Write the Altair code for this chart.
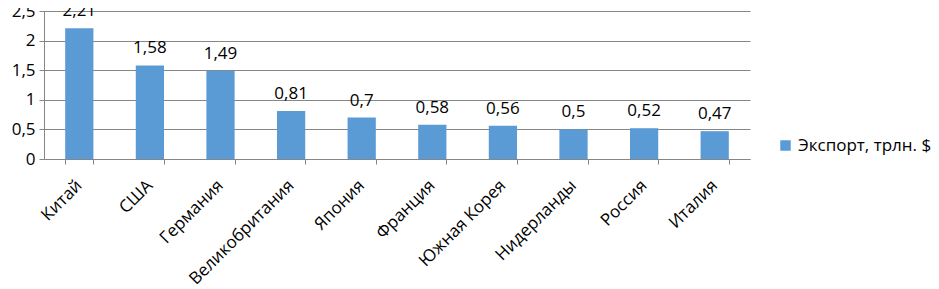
import altair as alt
import pandas as pd

countries = ["Китай", "США", "Германия", "Великобритания", "Япония",
             "Франция", "Южная Корея", "Нидерланды", "Россия", "Италия"]
values = [2.21, 1.58, 1.49, 0.81, 0.7, 0.58, 0.56, 0.5, 0.52, 0.47]
labels = ["2,21", "1,58", "1,49", "0,81", "0,7", "0,58", "0,56", "0,5", "0,52", "0,47"]
series = "Экспорт, трлн. $"

df = pd.DataFrame({"country": countries, "value": values, "label": labels,
                   "series": [series] * len(countries)})

FONT = "Open Sans"
BLUE = "#5B9BD5"
FS = 17

x = alt.X("country:N", sort=countries, title=None,
          scale=alt.Scale(paddingInner=0.6, paddingOuter=0.3),
          axis=alt.Axis(labelAngle=-45, labelFontSize=FS, labelFont=FONT,
                        labelColor="#000000", tickBand="extent", tickSize=5,
                        tickColor="#868686", domainColor="#868686",
                        labelPadding=13, labelOffset=-6, labelAlign="right",
                        labelBaseline="top", labelOverlap=False))

y = alt.Y("value:Q", title=None,
          scale=alt.Scale(domain=[0, 2.5], nice=False),
          axis=alt.Axis(values=[0, 0.5, 1, 1.5, 2, 2.5],
                        labelExpr="replace(format(datum.value, '.1~f'), '.', ',')",
                        labelFontSize=FS, labelFont=FONT, labelColor="#000000",
                        gridColor="#868686", tickColor="#868686",
                        domainColor="#868686", tickSize=5, labelPadding=4,
                        labelOverlap=False, labelFlush=False))

bars = alt.Chart(df).mark_bar(color=BLUE).encode(
    x=x, y=y,
    color=alt.Color("series:N", scale=alt.Scale(range=[BLUE]),
                    legend=alt.Legend(title=None, orient="none", legendX=733,
                                      legendY=126, symbolType="square",
                                      symbolSize=110, symbolStrokeWidth=0,
                                      labelFontSize=FS, labelFont=FONT,
                                      labelColor="#000000")),
)

text = alt.Chart(df).mark_text(dy=-17, fontSize=FS, font=FONT, color="#000000").encode(
    x=x, y=y,
    text="label:N",
)

chart = (bars + text).properties(
    width=706, height=148,
    autosize=alt.AutoSizeParams(type="none"),
    padding={"left": 36, "top": 3, "right": 181, "bottom": 126},
).configure_view(stroke=None)

chart.save("out.html", embed_options={"renderer": "svg", "actions": False})
